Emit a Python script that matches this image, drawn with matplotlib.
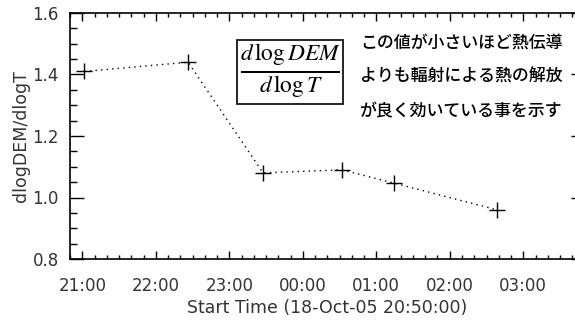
import matplotlib
matplotlib.use('Agg')
import matplotlib.pyplot as plt
from matplotlib.ticker import MultipleLocator, FuncFormatter

# Start times in hours since 18-Oct 00:00 (values past 24 are next day)
start_hours = [21.03, 22.44, 23.46, 24.53, 25.24, 26.64]
dlogdem_dlogt = [1.41, 1.44, 1.08, 1.09, 1.047, 0.96]

hour_ticks = [21, 22, 23, 24, 25, 26, 27]
x_start = 20 + 50 / 60.0   # 20:50:00
x_end = x_start + 7.0

note_lines = ['この値が小さいほど熱伝導',
              'よりも輻射による熱の解放',
              'が良く効いている事を示す']

plt.rcParams['mathtext.fontset'] = 'stix'

fig = plt.figure(figsize=(5.75, 3.2), dpi=100)
ax = fig.add_axes([70 / 575, 1 - 259 / 320, 514.5 / 575, 246 / 320])

ax.plot(start_hours, dlogdem_dlogt, linestyle=(0, (1, 3)), color='black',
        linewidth=1.0, marker='+', markersize=11, markeredgewidth=1.0)

ax.set_xlim(x_start, x_end)
ax.set_ylim(0.8, 1.6)

ax.set_xticks(hour_ticks)
ax.xaxis.set_minor_locator(MultipleLocator(1 / 6.0))
ax.xaxis.set_major_formatter(FuncFormatter(lambda v, p: '%02d:00' % (int(round(v)) % 24)))
ax.yaxis.set_major_locator(MultipleLocator(0.2))
ax.yaxis.set_minor_locator(MultipleLocator(0.05))
ax.yaxis.set_major_formatter(FuncFormatter(lambda v, p: '%.1f' % v))

ax.tick_params(which='both', direction='in', top=True, right=True, color='black')
ax.tick_params(axis='y', which='major', length=10, width=1)
ax.tick_params(axis='y', which='minor', length=5, width=1)
ax.tick_params(axis='x', which='major', length=6, width=1)
ax.tick_params(axis='x', which='minor', length=3, width=1)
ax.tick_params(axis='both', labelsize=12, labelcolor='#333333')
ax.tick_params(axis='x', pad=13)
ax.tick_params(axis='y', pad=8)
for s in ax.spines.values():
    s.set_linewidth(1.2)

ax.set_ylabel('dlogDEM/dlogT', fontsize=12.5, color='#333333', labelpad=2)
ax.set_xlabel('Start Time (18-Oct-05 20:50:00)', fontsize=12.5, color='#333333', labelpad=3)

# Fraction in a box
fig.text(290 / 575, 1 - 72 / 320, r'$\frac{d\,\log DEM}{d\,\log T}$', fontsize=24,
         ha='center', va='center',
         bbox=dict(boxstyle='square,pad=0.08', fc='white', ec='black', lw=1.2))

# Note text to the right of the box
for i, line in enumerate(note_lines):
    fig.text(360 / 575, 1 - (43 + 34 * i) / 320, line, fontsize=12.2,
             family=['Noto Sans CJK JP', 'DejaVu Sans'], weight='medium',
             ha='left', va='center', color='black')

fig.savefig('out.png', dpi=100)
